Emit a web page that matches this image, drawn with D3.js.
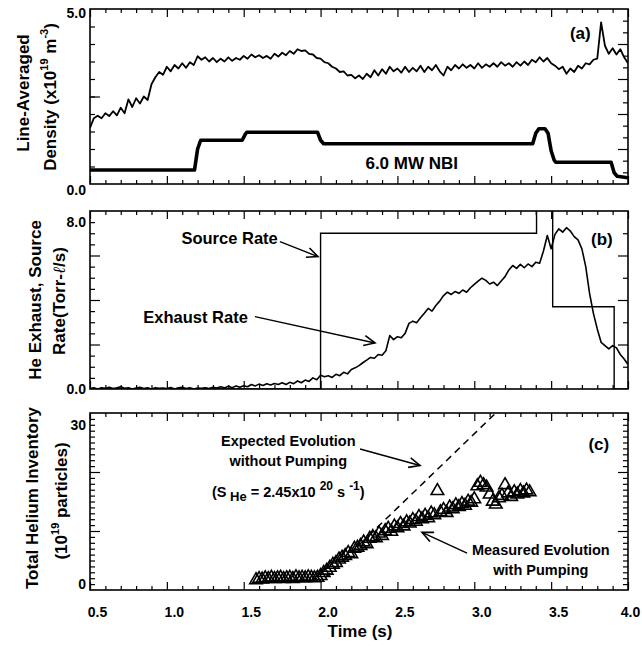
<!DOCTYPE html>
<html>
<head>
<meta charset="utf-8">
<script src="https://cdn.jsdelivr.net/npm/d3@7"></script>
<style>
body { margin: 0; background: #fff; }
svg { display: block; font-family: "Liberation Sans", Arial, Helvetica, sans-serif; font-weight: bold; }
.frame { fill: none; stroke: #000; stroke-width: 1.6; }
.tick line { stroke: #000; stroke-width: 1.2; }
.domain { display: none; }
</style>
</head>
<body>
<div id="chart"></div>
<script>
// ---- data ----
const timeTicks = [0.5, 1.0, 1.5, 2.0, 2.5, 3.0, 3.5, 4.0];
const timeLabels = ["0.5", "1.0", "1.5", "2.0", "2.5", "3.0", "3.5", "4.0"];

// line-averaged density (1e19 m^-3), sampled every 0.025 s from 0.5 s
const densityStart = 0.5, densityStep = 0.025;
const density = [
  1.60,1.88,1.95,1.88,2.02,1.94,2.08,1.96,2.18,2.02,
  2.42,2.20,2.45,2.30,2.50,2.40,2.85,3.05,3.20,3.12,
  3.35,3.22,3.40,3.30,3.45,3.32,3.48,3.40,3.65,3.55,
  3.62,3.50,3.60,3.48,3.58,3.50,3.62,3.52,3.60,3.55,
  3.66,3.58,3.70,3.62,3.68,3.60,3.66,3.58,3.72,3.64,
  3.75,3.68,3.80,3.72,3.85,3.80,3.82,3.72,3.70,3.60,
  3.58,3.48,3.45,3.35,3.30,3.20,3.22,3.10,3.12,3.02,
  3.10,3.00,3.15,3.05,3.25,3.10,3.28,3.15,3.35,3.22,
  3.30,3.18,3.35,3.20,3.32,3.22,3.38,3.20,3.35,3.25,
  3.40,3.22,3.10,3.35,3.25,3.40,3.30,3.42,3.32,3.40,
  3.30,3.45,3.32,3.42,3.35,3.45,3.35,3.48,3.38,3.45,
  3.35,3.48,3.38,3.50,3.40,3.55,3.48,3.62,3.50,3.60,
  3.45,3.38,3.28,3.35,3.15,3.30,3.20,3.38,3.30,3.45,
  3.42,3.55,3.58,4.62,3.95,3.72,3.88,3.70,3.85,3.62,
  3.45
];

// NBI power waveform (arbitrary units on the density scale)
const nbiTime = [0.5, 1.18, 1.20, 1.22, 1.49, 1.51, 1.52, 1.98, 2.00, 2.02, 3.38, 3.40, 3.42, 3.46, 3.48, 3.50, 3.52, 3.53, 3.89, 3.91, 3.93, 4.0];
const nbiValue = [0.40, 0.40, 1.00, 1.25, 1.25, 1.42, 1.48, 1.48, 1.25, 1.15, 1.15, 1.45, 1.58, 1.58, 1.45, 0.95, 0.68, 0.62, 0.62, 0.32, 0.22, 0.18];

// He exhaust rate (Torr-l/s), sampled every 0.025 s from 0.5 s
const exhaustStart = 0.5, exhaustStep = 0.025;
const exhaust = [
  0.02,0.05,0.00,0.06,0.03,0.08,0.02,0.05,0.10,0.03,
  0.06,0.00,0.04,0.08,0.02,0.05,0.00,0.06,0.03,0.04,
  0.02,0.07,0.00,0.05,0.08,0.02,0.06,0.00,0.04,0.03,
  0.06,0.02,0.08,0.04,0.10,0.05,0.12,0.06,0.14,0.08,
  0.15,0.10,0.20,0.14,0.22,0.16,0.24,0.18,0.25,0.20,
  0.28,0.20,0.30,0.24,0.36,0.28,0.40,0.34,0.50,0.42,
  0.62,0.55,0.60,0.52,0.66,0.60,0.75,0.68,0.88,0.95,
  1.05,1.18,1.30,1.42,1.38,1.55,1.52,1.72,2.40,2.22,
  2.35,2.30,2.50,2.95,3.05,2.98,3.20,3.40,3.62,3.50,
  3.75,3.95,4.20,4.35,4.25,4.38,4.30,4.45,4.35,4.55,
  4.70,4.85,4.98,4.88,4.72,4.80,4.65,4.85,5.05,5.35,
  5.55,5.42,5.60,5.45,5.62,5.50,5.70,5.65,6.20,6.90,
  6.30,6.95,7.20,7.05,7.25,7.10,6.85,6.70,6.30,5.50,
  4.30,3.40,2.70,2.10,1.95,1.80,1.95,1.85,1.55,1.35,
  1.10
];

// He source rate (Torr-l/s), step waveform
const sourceTime = [0.5, 2.0, 2.0, 3.405, 3.405, 3.51, 3.51, 3.91, 3.91, 4.0];
const sourceValue = [0, 0, 7.0, 7.0, 9.0, 9.0, 3.7, 3.7, 0, 0];

// measured He inventory (1e19 particles), every 0.02 s from 1.58 s
const heStart = 1.58, heStep = 0.02;
const heMeasured = [
  1.7,1.9,1.8,2.0,1.9,2.1,1.9,2.0,2.1,1.9,
  2.0,2.1,1.9,2.2,2.0,2.1,2.0,2.2,2.1,2.0,
  2.1,2.4,2.9,3.3,3.8,4.3,4.6,5.2,5.5,5.8,
  6.3,6.1,7.0,7.2,7.5,8.1,7.8,8.7,9.0,8.8,
  9.6,9.2,10.0,10.4,9.9,10.8,10.5,11.2,10.8,11.5,
  11.3,11.9,11.6,12.4,12.0,12.6,12.2,13.0,12.7,16.8,
  13.2,13.6,13.1,14.0,13.7,14.4,14.1,14.6,14.3,15.0,
  14.8,15.4,17.6,18.2,17.8,17.4,16.2,15.0,14.5,15.6,
  16.0,17.8,16.4,15.8,16.6,16.2,16.8,16.4,16.9,16.6
];

// expected evolution without pumping
const expectedTime = [2.03, 3.16];
const expectedValue = [2.1, 30.5];

// ---- layout ----
const W = 642, H = 646;
const svg = d3.select("#chart").append("svg").attr("width", W).attr("height", H);
const x = d3.scaleLinear().domain([0.5, 4.0]).range([90, 628]);
const minorX = d3.range(0.6, 4.0, 0.1).filter(t => Math.abs(t * 2 - Math.round(t * 2)) > 1e-6);

const yA = d3.scaleLinear().domain([0, 5]).range([184, 9]);
const yB = d3.scaleLinear().domain([0, 8]).range([389, 211]);
const yC = d3.scaleLinear().domain([0, 30]).range([590, 413]);

function drawFrame(y, id, leftMinor, leftMajor, rightMinor, rightMajor) {
  const [b, t] = y.range();
  const g = svg.append("g");
  svg.append("clipPath").attr("id", "clip-" + id)
    .append("rect").attr("x", x(0.5)).attr("y", t).attr("width", x(4.0) - x(0.5)).attr("height", b - t);

  g.append("g").attr("transform", `translate(0,${b})`).call(d3.axisBottom(x).tickValues(minorX).tickSize(-4).tickFormat(""));
  g.append("g").attr("transform", `translate(0,${b})`).call(d3.axisBottom(x).tickValues(timeTicks).tickSize(-8).tickFormat(""));
  g.append("g").attr("transform", `translate(0,${t})`).call(d3.axisTop(x).tickValues(minorX).tickSize(-4).tickFormat(""));
  g.append("g").attr("transform", `translate(0,${t})`).call(d3.axisTop(x).tickValues(timeTicks).tickSize(-8).tickFormat(""));

  g.append("g").attr("transform", `translate(${x(0.5)},0)`).call(d3.axisLeft(y).tickValues(leftMinor).tickSize(-5).tickFormat(""));
  g.append("g").attr("transform", `translate(${x(0.5)},0)`).call(d3.axisLeft(y).tickValues(leftMajor).tickSize(-10).tickFormat(""));
  g.append("g").attr("transform", `translate(${x(4.0)},0)`).call(d3.axisRight(y).tickValues(rightMinor).tickSize(-5).tickFormat(""));
  g.append("g").attr("transform", `translate(${x(4.0)},0)`).call(d3.axisRight(y).tickValues(rightMajor).tickSize(-10).tickFormat(""));

  g.append("rect").attr("class", "frame")
    .attr("x", x(0.5)).attr("y", t).attr("width", x(4.0) - x(0.5)).attr("height", b - t);
  return "url(#clip-" + id + ")";
}

function yLabel(y, v, text, shift) {
  svg.append("text").attr("x", 86).attr("y", y(v) + shift)
    .attr("text-anchor", "end").attr("dominant-baseline", "central")
    .style("font-size", "14px").text(text);
}

// rotated axis titles built from pieces (plain / superscript)
function title(cx, cy, parts) {
  const t = svg.append("text")
    .attr("transform", `translate(${cx},${cy}) rotate(-90)`)
    .attr("text-anchor", "middle").attr("dominant-baseline", "central")
    .style("font-size", "17px");
  parts.forEach(p => {
    const s = t.append("tspan").text(p.t);
    if (p.sup) s.attr("dy", -6).style("font-size", "11px");
    if (p.after) s.attr("dy", 6);
    if (p.ell) s.style("font-weight", "normal").style("font-style", "italic").style("font-family", "DejaVu Serif, serif");
  });
}

const arrowDef = svg.append("defs").append("marker")
  .attr("id", "arrow").attr("viewBox", "-12 -6 14 12")
  .attr("markerWidth", 14).attr("markerHeight", 12)
  .attr("refX", 0).attr("refY", 0).attr("orient", "auto").attr("markerUnits", "userSpaceOnUse");
arrowDef.append("path").attr("d", "M-11,-5 L0,0 L-11,5").attr("fill", "none").attr("stroke", "#000").attr("stroke-width", 1.6);

function arrow(y, t0, v0, t1, v1) {
  svg.append("line").attr("x1", x(t0)).attr("y1", y(v0)).attr("x2", x(t1)).attr("y2", y(v1))
    .attr("stroke", "#000").attr("stroke-width", 1.4).attr("marker-end", "url(#arrow)");
}

function note(y, t, v, text, size, anchor) {
  return svg.append("text").attr("x", x(t)).attr("y", y(v))
    .attr("text-anchor", anchor || "middle").attr("dominant-baseline", "central")
    .style("font-size", size + "px").text(text);
}

// ---- panel (a) ----
const clipA = drawFrame(yA, "a",
  d3.range(0.5, 5, 0.5), [2.5],
  d3.range(1, 15).map(i => i / 3).filter(v => Math.abs(v - Math.round(v)) > 1e-6), [1, 2, 3, 4]);

const densityPts = density.map((v, i) => [densityStart + i * densityStep, v]);
svg.append("path").datum(densityPts).attr("clip-path", clipA)
  .attr("fill", "none").attr("stroke", "#000").attr("stroke-width", 1.8).attr("stroke-linejoin", "round")
  .attr("d", d3.line().x(d => x(d[0])).y(d => yA(d[1])));

const nbiPts = nbiTime.map((t, i) => [t, nbiValue[i]]);
svg.append("path").datum(nbiPts).attr("clip-path", clipA)
  .attr("fill", "none").attr("stroke", "#000").attr("stroke-width", 3.6).attr("stroke-linejoin", "round")
  .attr("d", d3.line().x(d => x(d[0])).y(d => yA(d[1])));

yLabel(yA, 5, "5.0", 4);
yLabel(yA, 0, "0.0", 6);
note(yA, 3.69, 4.31, "(a)", 17);
note(yA, 2.593, 0.6, "6.0 MW NBI", 17);
title(23, 93, [{t: "Line-Averaged"}]);
title(50, 97, [{t: "Density (x10"}, {t: "19", sup: true}, {t: " m", after: true}, {t: "-3", sup: true}, {t: ")", after: true}]);

// ---- panel (b) ----
const clipB = drawFrame(yB, "b",
  d3.range(0.5, 8, 0.5).filter(v => v % 2 !== 0), [2, 4, 6],
  [1, 3, 5, 7], [2, 4, 6]);

const sourcePts = sourceTime.map((t, i) => [t, sourceValue[i]]);
svg.append("path").datum(sourcePts).attr("clip-path", clipB)
  .attr("fill", "none").attr("stroke", "#000").attr("stroke-width", 1.4)
  .attr("d", d3.line().x(d => x(d[0])).y(d => yB(d[1])));

const exhaustPts = exhaust.map((v, i) => [exhaustStart + i * exhaustStep, v]);
svg.append("path").datum(exhaustPts).attr("clip-path", clipB)
  .attr("fill", "none").attr("stroke", "#000").attr("stroke-width", 1.6).attr("stroke-linejoin", "round")
  .attr("d", d3.line().x(d => x(d[0])).y(d => yB(d[1])));

yLabel(yB, 8, "8.0", 11);
yLabel(yB, 0, "0.0", 0);
note(yB, 3.83, 6.70, "(b)", 17);
note(yB, 1.095, 6.79, "Source Rate", 16.5, "start");
note(yB, 0.847, 3.24, "Exhaust Rate", 16.5, "start");
arrow(yB, 1.736, 6.62, 1.983, 5.95);
arrow(yB, 1.573, 3.25, 2.354, 2.07);
title(35, 300, [{t: "He Exhaust, Source"}]);
title(59, 301, [{t: "Rate(Torr-"}, {t: "\u2113", ell: true}, {t: "/s)"}]);

// ---- panel (c) ----
const minorC = d3.range(1, 30).filter(v => v % 10 !== 0);
const clipC = drawFrame(yC, "c", minorC, [10, 20], minorC, [10, 20]);

const expectedPts = expectedTime.map((t, i) => [t, expectedValue[i]]);
svg.append("path").datum(expectedPts).attr("clip-path", clipC)
  .attr("fill", "none").attr("stroke", "#000").attr("stroke-width", 1.5).attr("stroke-dasharray", "7,5")
  .attr("d", d3.line().x(d => x(d[0])).y(d => yC(d[1])));

const tri = d3.symbol().type(d3.symbolTriangle).size(68);
svg.append("g").attr("clip-path", clipC).selectAll("path")
  .data(heMeasured.map((v, i) => [heStart + i * heStep, v]))
  .join("path")
  .attr("transform", d => `translate(${x(d[0])},${yC(d[1])})`)
  .attr("d", tri).attr("fill", "none").attr("stroke", "#000").attr("stroke-width", 1.6);

yLabel(yC, 30, "30", 12);
yLabel(yC, 0, "0", -6);
note(yC, 3.81, 24.7, "(c)", 17);
note(yC, 1.79, 25.3, "Expected Evolution", 14.5);
note(yC, 1.79, 21.9, "without Pumping", 14.5);
const sHe = note(yC, 1.79, 16.6, "", 14.5);
sHe.append("tspan").text("(S");
sHe.append("tspan").text(" He").attr("dy", 4).style("font-size", "13px");
sHe.append("tspan").text(" = 2.45x10 ").attr("dy", -4);
sHe.append("tspan").text("20").attr("dy", -6).style("font-size", "12px");
sHe.append("tspan").text(" s ").attr("dy", 6);
sHe.append("tspan").text("-1").attr("dy", -6).style("font-size", "12px");
sHe.append("tspan").text(")").attr("dy", 6);
note(yC, 3.433, 6.75, "Measured Evolution", 14.5);
note(yC, 3.433, 3.37, "with Pumping", 14.5);
arrow(yC, 2.257, 23.9, 2.647, 21.1);
arrow(yC, 2.953, 6.24, 2.66, 9.78);

title(32, 498, [{t: "Total Helium Inventory"}]);
title(61, 501, [{t: "(10"}, {t: "19", sup: true}, {t: " particles)", after: true}]);

// time labels under panel (c)
const xl = svg.append("g").attr("transform", `translate(0,${yC.range()[0]})`)
  .call(d3.axisBottom(x).tickValues(timeTicks).tickSize(0).tickPadding(17).tickFormat((d, i) => timeLabels[i]));
xl.selectAll("text").attr("dx", (d, i) => i === timeTicks.length - 1 ? 2 : 7).style("font-size", "14px").style("font-family", null);
xl.selectAll(".tick line").remove();

svg.append("text").attr("x", 360).attr("y", 631).attr("text-anchor", "middle")
  .attr("dominant-baseline", "central").style("font-size", "17px").text("Time (s)");
</script>
</body>
</html>
